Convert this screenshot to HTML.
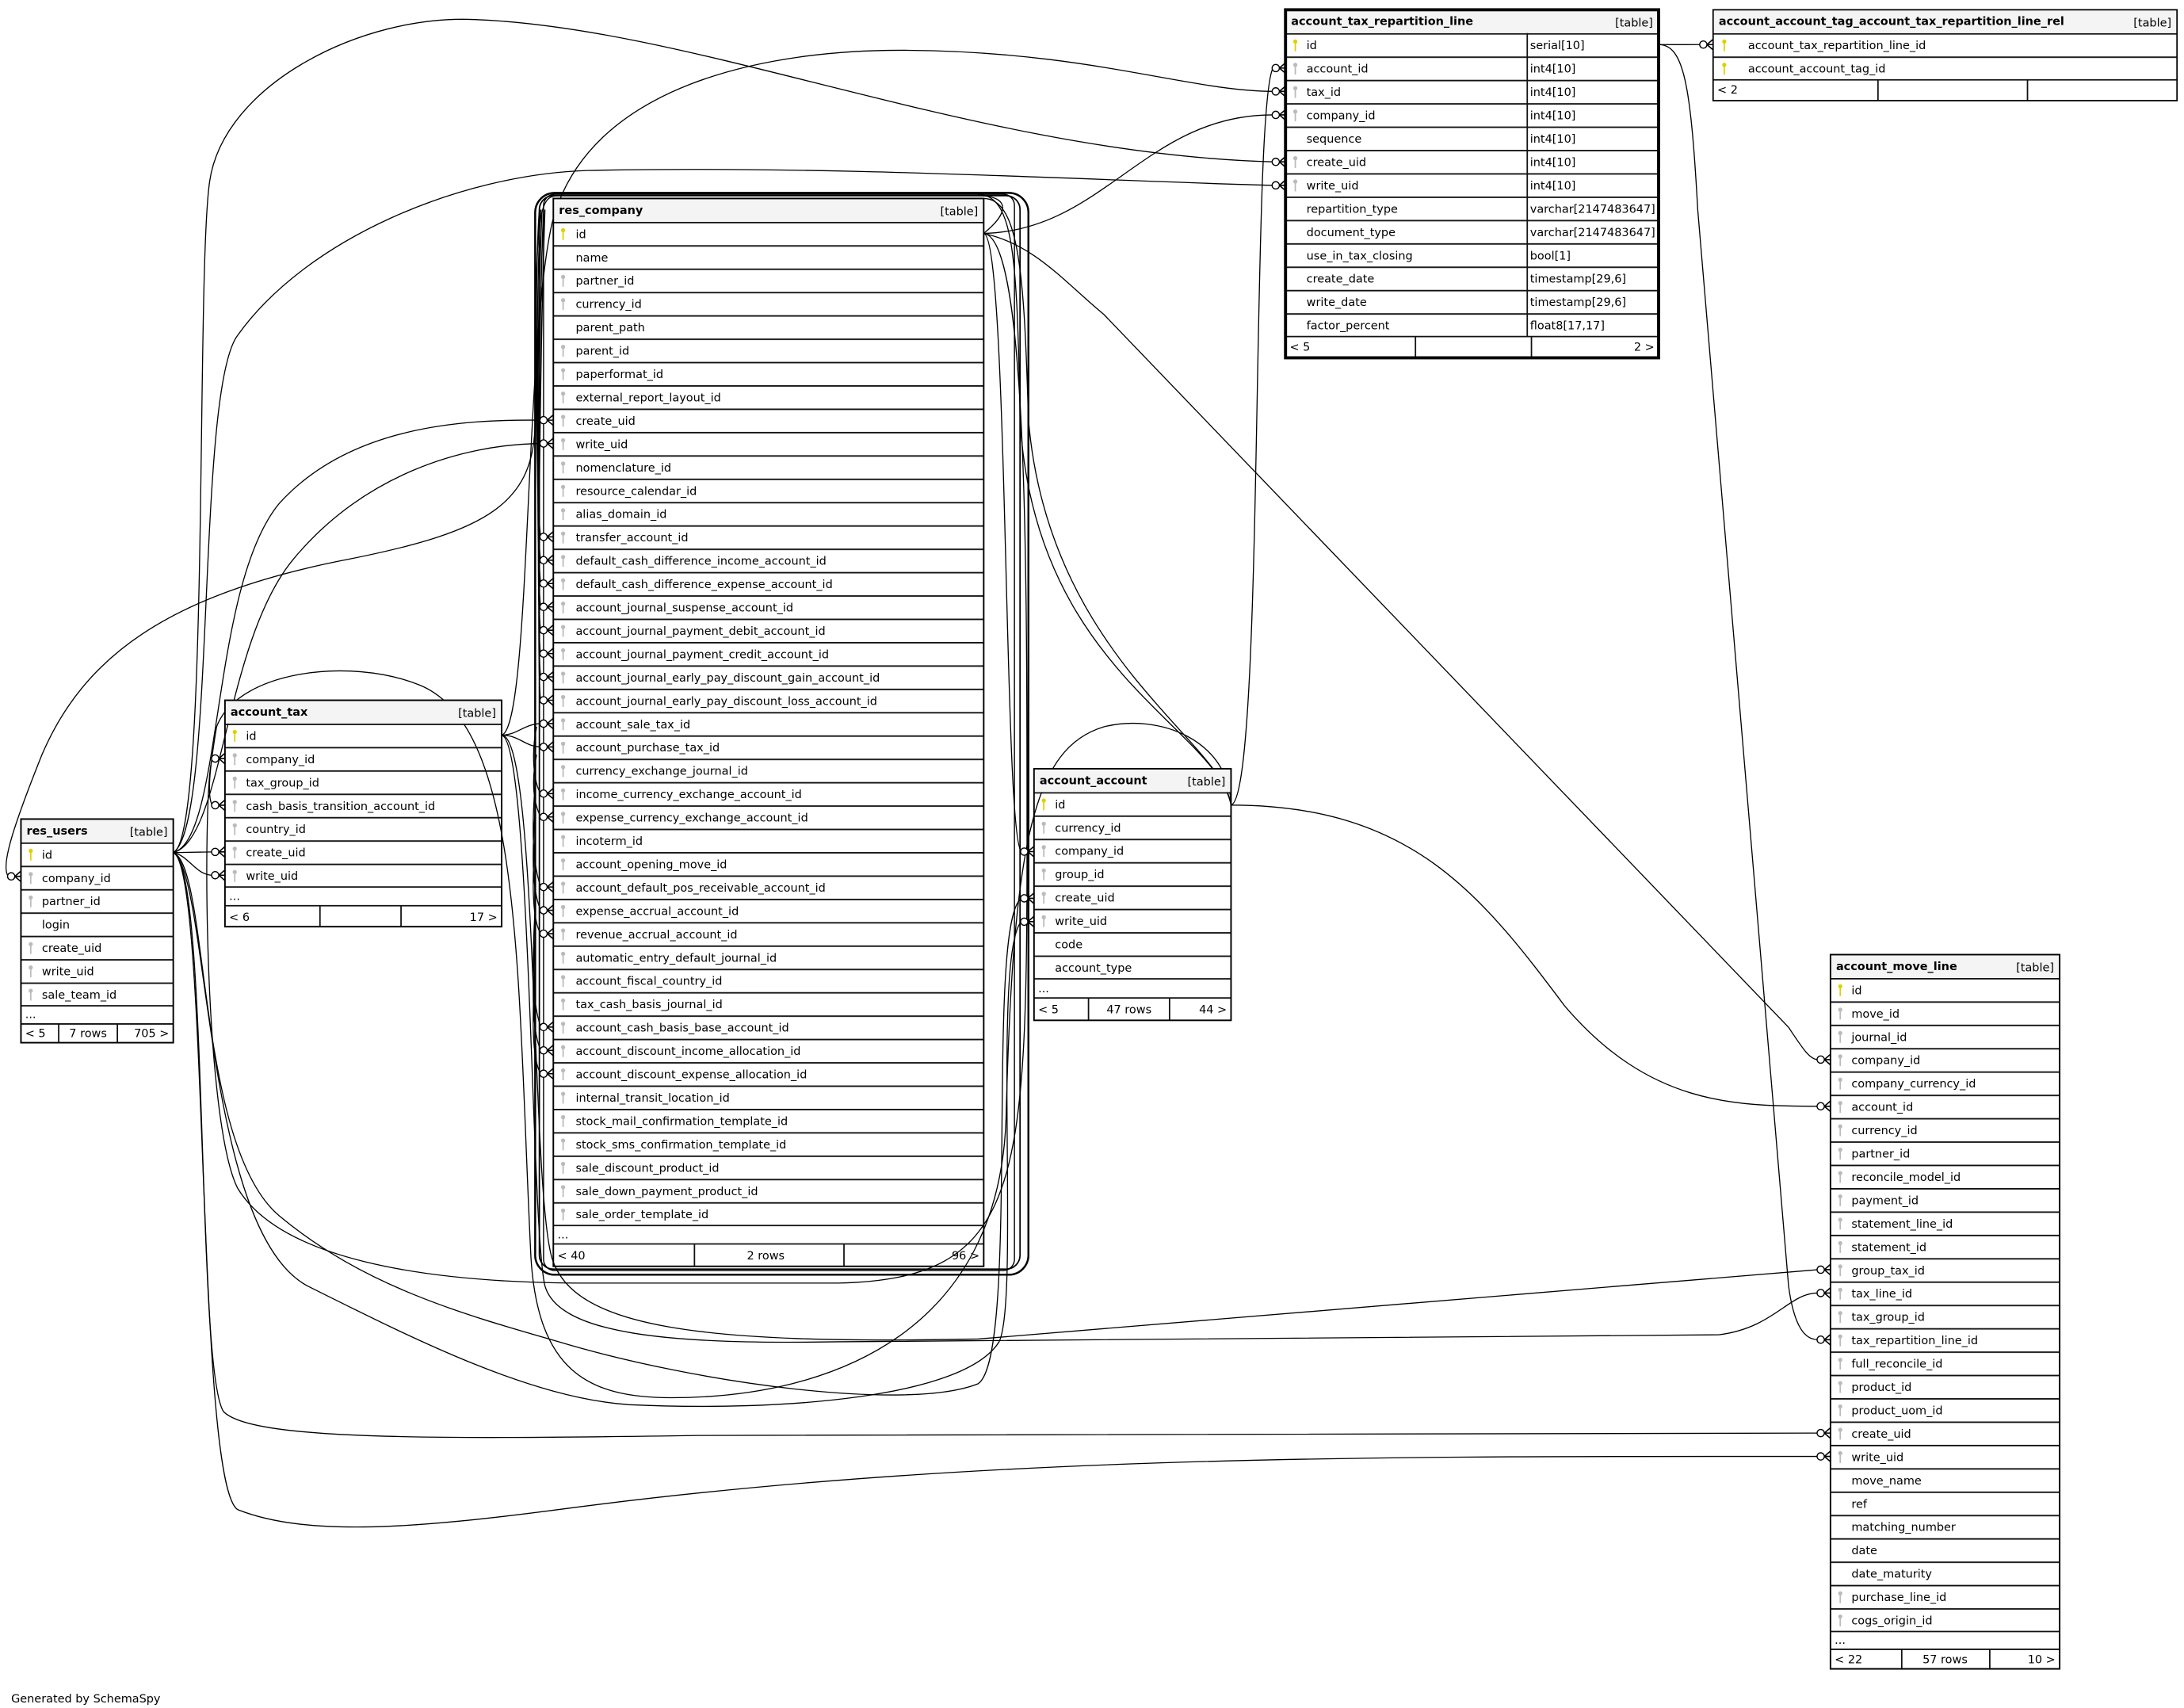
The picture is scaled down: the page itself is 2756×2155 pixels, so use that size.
<!DOCTYPE html>
<html><head><meta charset="utf-8"><style>
html,body{margin:0;padding:0;background:#fff;}
svg{display:block;}
text{font-family:"DejaVu Sans","Liberation Sans",sans-serif;font-size:8.2px;fill:#000;}
.h{font-weight:bold;}
.e{fill:none;stroke:#000;stroke-width:0.75;}
.tb{fill:#fff;stroke:#000;stroke-width:1;}
</style></head><body>
<svg width="2756" height="2155" viewBox="0 0 1563 1222" preserveAspectRatio="none" xmlns="http://www.w3.org/2000/svg">
<defs>
<pattern id="rows" width="2000" height="16.7" patternUnits="userSpaceOnUse"><path d="M0 0.5H2000" stroke="#111" stroke-width="1.1"/></pattern>
<g id="kp"><circle cx="2" cy="2" r="1.5" fill="#e0d000"/><rect x="1.5" y="2.5" width="1" height="6.5" fill="#e0d000"/></g>
<g id="kf"><circle cx="2" cy="2" r="1.5" fill="#bbb"/><rect x="1.5" y="2.5" width="1" height="6.5" fill="#bbb"/></g>
<g id="cf"><circle cx="-7" cy="0" r="2.6" fill="#fff" stroke="#000" stroke-width="0.8"/><path d="M-4.4 0L0 -3.8M-4.4 0L0 0M-4.4 0L0 3.8" stroke="#000" stroke-width="0.9" fill="none"/></g>
</defs>
<rect width="1563" height="1222" fill="#fff"/>

<!-- loops around res_company -->
<rect x="383" y="138" width="353" height="774" rx="14" fill="none" stroke="#000" stroke-width="1.4"/>
<rect x="386" y="140" width="344" height="768" rx="10" fill="none" stroke="#000" stroke-width="1"/>
<rect x="389" y="139" width="337" height="770" rx="8" fill="none" stroke="#000" stroke-width="0.8"/>

<!-- edges -->
<g class="e">
<path d="M124,610 C150,600 140,200 150,130 C160,60 260,10 340,14 C500,20 700,110 911,115.8"/>
<path d="M124,610 C155,590 140,280 170,240 C220,170 330,125 420,122 C600,118 800,130 911,132.6"/>
<path d="M704,167 C790,165 820,82 911,82.2"/>
<path d="M881,576 C905,570 895,80 911,48.7"/>
<path d="M359,526 C380,520 375,250 395,160 C420,60 550,35 650,36 C780,37 850,65 911,65.4"/>
<path d="M1187,31.9 C1200,32 1205,31.9 1217,31.9"/>
<path d="M1187,31.9 C1205,32 1210,60 1215,150 L1280,920 C1284,950 1292,958.5 1301,958.5"/>
<path d="M704,167 C740,175 760,200 790,225 L1280,735 C1290,750 1295,758 1301,758.1"/>
<path d="M881,576 C1010,576 1060,640 1120,720 C1180,790 1240,791.5 1301,791.5"/>
<path d="M359,526 C385,526 380,850 395,900 C410,950 500,962 700,958 L1301,908.4"/>
<path d="M359,526 C380,530 380,880 390,920 C400,955 480,962 600,960 L1230,955 C1270,950 1280,925 1301,925.1"/>
<path d="M124,610 C150,620 140,980 160,1010 C180,1030 300,1030 500,1027 L1301,1025.3"/>
<path d="M124,610 C150,620 140,1060 170,1080 C220,1100 300,1093 400,1080 C700,1040 1000,1042 1301,1042"/>
<path d="M124,610 L152,609.5"/>
<path d="M124,610 C135,612 140,626 152,626.2"/>
<path d="M704,167 C725,150 720,140 700,140 L400,140 C385,140 383,150 383,300 C383,360 350,380 250,400 C120,425 60,470 30,540 C10,590 0,620 6,627"/>
<path d="M124,610 C160,600 150,420 200,360 C250,305 330,300 387,300.6"/>
<path d="M124,610 C160,600 160,460 210,400 C260,340 330,318 387,317.3"/>
<path d="M359,526 C370,526 375,518 387,517.7"/>
<path d="M359,526 C372,526 375,534 387,534.4"/>
<path d="M704,167 C722,170 718,600 731,609.3"/>
<path d="M124,610 C150,620 140,820 200,870 C260,920 330,940 400,960 C500,990 650,1010 700,990 C730,970 705,660 731,642.7"/>
<path d="M124,610 C150,625 145,880 220,920 C300,960 380,1000 450,1005 C560,1010 690,1000 715,960 C730,930 710,680 731,659.4"/>
<path d="M704,167 C735,170 735,400 735,600 C735,850 730,915 600,918 L420,918 C300,918 200,900 170,850 C145,800 145,560 152,542.7"/>
<path d="M881,576 C880,530 830,510 790,520 C740,535 725,600 720,800 C715,950 600,1000 480,1000 C420,1000 385,980 380,900 C370,700 375,520 300,490 C250,470 170,480 155,520 C150,550 148,570 152,576.1"/>
<path d="M881,576 C870,520 740,480 730,300 C728,180 725,140 700,139"/>
<path d="M881,576 C875,530 750,470 736,300 C733,200 730,142 704,142"/>
<path d="M386,150 C382,200 384,370 387,384.1M387,150 C383,210 384,390 387,400.8M388,150 C384,220 384,400 387,417.5M388,150 C384,230 384,420 387,434.2M389,150 C385,240 384,440 387,450.9M389,150 C385,250 384,460 387,467.6M390,150 C386,260 384,470 387,484.3M390,150 C386,270 384,490 387,501"/>
<path d="M384,520 C380,540 382,560 387,567.8M384,540 C380,560 382,575 387,584.5M383,560 C380,600 382,620 387,634.6M383,580 C380,620 382,640 387,651.3M383,600 C380,640 382,660 387,668M383,650 C380,700 382,720 387,734.8M383,670 C380,720 382,740 387,751.5M383,690 C380,740 382,760 387,768.2"/>
</g>
<!-- crow's feet -->
<use href="#cf" x="920" y="48.7"/><use href="#cf" x="920" y="65.4"/><use href="#cf" x="920" y="82.2"/><use href="#cf" x="920" y="115.8"/><use href="#cf" x="920" y="132.6"/>
<use href="#cf" x="1226" y="31.9"/>
<use href="#cf" x="1310" y="758.1"/><use href="#cf" x="1310" y="791.5"/><use href="#cf" x="1310" y="908.4"/><use href="#cf" x="1310" y="925.1"/><use href="#cf" x="1310" y="958.5"/><use href="#cf" x="1310" y="1025.3"/><use href="#cf" x="1310" y="1042"/>
<use href="#cf" x="396" y="300.6"/><use href="#cf" x="396" y="317.3"/><use href="#cf" x="396" y="384.1"/><use href="#cf" x="396" y="400.8"/><use href="#cf" x="396" y="417.5"/><use href="#cf" x="396" y="434.2"/><use href="#cf" x="396" y="450.9"/><use href="#cf" x="396" y="467.6"/><use href="#cf" x="396" y="484.3"/><use href="#cf" x="396" y="501"/><use href="#cf" x="396" y="517.7"/><use href="#cf" x="396" y="534.4"/><use href="#cf" x="396" y="567.8"/><use href="#cf" x="396" y="584.5"/><use href="#cf" x="396" y="634.6"/><use href="#cf" x="396" y="651.3"/><use href="#cf" x="396" y="668"/><use href="#cf" x="396" y="734.8"/><use href="#cf" x="396" y="751.5"/><use href="#cf" x="396" y="768.2"/>
<use href="#cf" x="161" y="542.7"/><use href="#cf" x="161" y="576.1"/><use href="#cf" x="161" y="609.5"/><use href="#cf" x="161" y="626.2"/>
<use href="#cf" x="15" y="627"/>
<use href="#cf" x="740" y="609.3"/><use href="#cf" x="740" y="642.7"/><use href="#cf" x="740" y="659.4"/>

<!-- account_tax_repartition_line -->
<g transform="translate(920,7)">
<rect x="0" y="0" width="267" height="16.7" fill="#f4f4f4"/>
<rect x="0" y="16.7" width="267" height="217.1" fill="url(#rows)"/>
<path d="M0 233.8H267M173 16.7V233.8M93 233.8V249M176 233.8V249" stroke="#111" stroke-width="1"/>
<rect x="0" y="0" width="267" height="249" fill="none" stroke="#000" stroke-width="2.2"/>
<text x="4" y="11" class="h">account_tax_repartition_line</text><text x="263" y="12" text-anchor="end">[table]</text>
<use href="#kp" x="5" y="20.7"/><use href="#kf" x="5" y="37.4"/><use href="#kf" x="5" y="54.1"/><use href="#kf" x="5" y="70.8"/><use href="#kf" x="5" y="104.2"/><use href="#kf" x="5" y="120.9"/>
<text x="15" y="28.3">id</text><text x="175" y="28.3">serial[10]</text>
<text x="15" y="45">account_id</text><text x="175" y="45">int4[10]</text>
<text x="15" y="61.7">tax_id</text><text x="175" y="61.7">int4[10]</text>
<text x="15" y="78.4">company_id</text><text x="175" y="78.4">int4[10]</text>
<text x="15" y="95.1">sequence</text><text x="175" y="95.1">int4[10]</text>
<text x="15" y="111.8">create_uid</text><text x="175" y="111.8">int4[10]</text>
<text x="15" y="128.5">write_uid</text><text x="175" y="128.5">int4[10]</text>
<text x="15" y="145.2">repartition_type</text><text x="175" y="145.2">varchar[2147483647]</text>
<text x="15" y="161.9">document_type</text><text x="175" y="161.9">varchar[2147483647]</text>
<text x="15" y="178.6">use_in_tax_closing</text><text x="175" y="178.6">bool[1]</text>
<text x="15" y="195.3">create_date</text><text x="175" y="195.3">timestamp[29,6]</text>
<text x="15" y="212">write_date</text><text x="175" y="212">timestamp[29,6]</text>
<text x="15" y="228.7">factor_percent</text><text x="175" y="228.7">float8[17,17]</text>
<text x="3" y="244">&lt; 5</text><text x="264" y="244" text-anchor="end">2 &gt;</text>
</g>

<!-- rel -->
<g transform="translate(1226,7)">
<rect x="0" y="0" width="332" height="16.7" fill="#f4f4f4"/>
<rect x="0" y="16.7" width="332" height="33.4" fill="url(#rows)"/>
<path d="M0 50.1H332M118 50.1V65M225 50.1V65" stroke="#111" stroke-width="1"/>
<rect x="0" y="0" width="332" height="65" fill="none" stroke="#000" stroke-width="1"/>
<text x="4" y="11" class="h">account_account_tag_account_tax_repartition_line_rel</text><text x="328" y="12" text-anchor="end">[table]</text>
<use href="#kp" x="6" y="20.7"/><use href="#kp" x="6" y="37.4"/>
<text x="25" y="28.3">account_tax_repartition_line_id</text>
<text x="25" y="45">account_account_tag_id</text>
<text x="3" y="60">&lt; 2</text>
</g>

<!-- res_company -->
<g transform="translate(396,142)">
<rect x="0" y="0" width="308" height="16.7" fill="#f4f4f4"/>
<rect x="0" y="16.7" width="308" height="718.1" fill="url(#rows)"/>
<path d="M0 734.8H308M0 748H308M101 748V764M208 748V764" stroke="#111" stroke-width="1"/>
<rect x="0" y="0" width="308" height="764" fill="none" stroke="#000" stroke-width="1.1"/>
<text x="4" y="11" class="h">res_company</text><text x="304" y="12" text-anchor="end">[table]</text>
<use href="#kp" x="5" y="20.7"/><use href="#kf" x="5" y="54.1"/><use href="#kf" x="5" y="70.8"/>
<use href="#kf" x="5" y="104.2"/><use href="#kf" x="5" y="120.9"/><use href="#kf" x="5" y="137.6"/><use href="#kf" x="5" y="154.3"/><use href="#kf" x="5" y="171"/><use href="#kf" x="5" y="187.7"/><use href="#kf" x="5" y="204.4"/><use href="#kf" x="5" y="221.1"/><use href="#kf" x="5" y="237.8"/><use href="#kf" x="5" y="254.5"/><use href="#kf" x="5" y="271.2"/><use href="#kf" x="5" y="287.9"/><use href="#kf" x="5" y="304.6"/><use href="#kf" x="5" y="321.3"/><use href="#kf" x="5" y="338"/><use href="#kf" x="5" y="354.7"/><use href="#kf" x="5" y="371.4"/><use href="#kf" x="5" y="388.1"/><use href="#kf" x="5" y="404.8"/><use href="#kf" x="5" y="421.5"/><use href="#kf" x="5" y="438.2"/><use href="#kf" x="5" y="454.9"/><use href="#kf" x="5" y="471.6"/><use href="#kf" x="5" y="488.3"/><use href="#kf" x="5" y="505"/><use href="#kf" x="5" y="521.7"/><use href="#kf" x="5" y="538.4"/><use href="#kf" x="5" y="555.1"/><use href="#kf" x="5" y="571.8"/><use href="#kf" x="5" y="588.5"/><use href="#kf" x="5" y="605.2"/><use href="#kf" x="5" y="621.9"/><use href="#kf" x="5" y="638.6"/><use href="#kf" x="5" y="655.3"/><use href="#kf" x="5" y="672"/><use href="#kf" x="5" y="688.7"/><use href="#kf" x="5" y="705.4"/><use href="#kf" x="5" y="722.1"/>
<text x="16" y="28.3">id</text>
<text x="16" y="45">name</text>
<text x="16" y="61.7">partner_id</text>
<text x="16" y="78.4">currency_id</text>
<text x="16" y="95.1">parent_path</text>
<text x="16" y="111.8">parent_id</text>
<text x="16" y="128.5">paperformat_id</text>
<text x="16" y="145.2">external_report_layout_id</text>
<text x="16" y="161.9">create_uid</text>
<text x="16" y="178.6">write_uid</text>
<text x="16" y="195.3">nomenclature_id</text>
<text x="16" y="212">resource_calendar_id</text>
<text x="16" y="228.7">alias_domain_id</text>
<text x="16" y="245.4">transfer_account_id</text>
<text x="16" y="262.1">default_cash_difference_income_account_id</text>
<text x="16" y="278.8">default_cash_difference_expense_account_id</text>
<text x="16" y="295.5">account_journal_suspense_account_id</text>
<text x="16" y="312.2">account_journal_payment_debit_account_id</text>
<text x="16" y="328.9">account_journal_payment_credit_account_id</text>
<text x="16" y="345.6">account_journal_early_pay_discount_gain_account_id</text>
<text x="16" y="362.3">account_journal_early_pay_discount_loss_account_id</text>
<text x="16" y="379">account_sale_tax_id</text>
<text x="16" y="395.7">account_purchase_tax_id</text>
<text x="16" y="412.4">currency_exchange_journal_id</text>
<text x="16" y="429.1">income_currency_exchange_account_id</text>
<text x="16" y="445.8">expense_currency_exchange_account_id</text>
<text x="16" y="462.5">incoterm_id</text>
<text x="16" y="479.2">account_opening_move_id</text>
<text x="16" y="495.9">account_default_pos_receivable_account_id</text>
<text x="16" y="512.6">expense_accrual_account_id</text>
<text x="16" y="529.3">revenue_accrual_account_id</text>
<text x="16" y="546">automatic_entry_default_journal_id</text>
<text x="16" y="562.7">account_fiscal_country_id</text>
<text x="16" y="579.4">tax_cash_basis_journal_id</text>
<text x="16" y="596.1">account_cash_basis_base_account_id</text>
<text x="16" y="612.8">account_discount_income_allocation_id</text>
<text x="16" y="629.5">account_discount_expense_allocation_id</text>
<text x="16" y="646.2">internal_transit_location_id</text>
<text x="16" y="662.9">stock_mail_confirmation_template_id</text>
<text x="16" y="679.6">stock_sms_confirmation_template_id</text>
<text x="16" y="696.3">sale_discount_product_id</text>
<text x="16" y="713">sale_down_payment_product_id</text>
<text x="16" y="729.7">sale_order_template_id</text>
<text x="3" y="744">...</text>
<text x="3" y="759">&lt; 40</text><text x="152" y="759" text-anchor="middle">2 rows</text><text x="305" y="759" text-anchor="end">96 &gt;</text>
</g>

<!-- account_tax -->
<g transform="translate(161,501)">
<rect x="0" y="0" width="198" height="16.7" fill="#f4f4f4"/>
<rect x="0" y="16.7" width="198" height="116.9" fill="url(#rows)"/>
<path d="M0 133.6H198M0 147H198M68 147V162M126 147V162" stroke="#111" stroke-width="1"/>
<rect x="0" y="0" width="198" height="162" fill="none" stroke="#000" stroke-width="1.1"/>
<text x="4" y="11" class="h">account_tax</text><text x="194" y="12" text-anchor="end">[table]</text>
<use href="#kp" x="5" y="20.7"/><use href="#kf" x="5" y="37.4"/><use href="#kf" x="5" y="54.1"/><use href="#kf" x="5" y="70.8"/><use href="#kf" x="5" y="87.5"/><use href="#kf" x="5" y="104.2"/><use href="#kf" x="5" y="120.9"/>
<text x="15" y="28.3">id</text>
<text x="15" y="45">company_id</text>
<text x="15" y="61.7">tax_group_id</text>
<text x="15" y="78.4">cash_basis_transition_account_id</text>
<text x="15" y="95.1">country_id</text>
<text x="15" y="111.8">create_uid</text>
<text x="15" y="128.5">write_uid</text>
<text x="3" y="143">...</text>
<text x="3" y="158">&lt; 6</text><text x="195" y="158" text-anchor="end">17 &gt;</text>
</g>

<!-- res_users -->
<g transform="translate(15,586)">
<rect x="0" y="0" width="109" height="16.7" fill="#f4f4f4"/>
<rect x="0" y="16.7" width="109" height="116.9" fill="url(#rows)"/>
<path d="M0 133.6H109M0 146.6H109M27 146.6V160M69 146.6V160" stroke="#111" stroke-width="1"/>
<rect x="0" y="0" width="109" height="160" fill="none" stroke="#000" stroke-width="1.1"/>
<text x="4" y="11" class="h">res_users</text><text x="105" y="12" text-anchor="end">[table]</text>
<use href="#kp" x="5" y="20.7"/><use href="#kf" x="5" y="37.4"/><use href="#kf" x="5" y="54.1"/><use href="#kf" x="5" y="87.5"/><use href="#kf" x="5" y="104.2"/><use href="#kf" x="5" y="120.9"/>
<text x="15" y="28.3">id</text>
<text x="15" y="45">company_id</text>
<text x="15" y="61.7">partner_id</text>
<text x="15" y="78.4">login</text>
<text x="15" y="95.1">create_uid</text>
<text x="15" y="111.8">write_uid</text>
<text x="15" y="128.5">sale_team_id</text>
<text x="3" y="142.5">...</text>
<text x="3" y="156">&lt; 5</text><text x="48" y="156" text-anchor="middle">7 rows</text><text x="106" y="156" text-anchor="end">705 &gt;</text>
</g>

<!-- account_account -->
<g transform="translate(740,550)">
<rect x="0" y="0" width="141" height="16.7" fill="#f4f4f4"/>
<rect x="0" y="16.7" width="141" height="133.6" fill="url(#rows)"/>
<path d="M0 150.3H141M0 164H141M39 164V180M97 164V180" stroke="#111" stroke-width="1"/>
<rect x="0" y="0" width="141" height="180" fill="none" stroke="#000" stroke-width="1.1"/>
<text x="4" y="11" class="h">account_account</text><text x="137" y="12" text-anchor="end">[table]</text>
<use href="#kp" x="5" y="20.7"/><use href="#kf" x="5" y="37.4"/><use href="#kf" x="5" y="54.1"/><use href="#kf" x="5" y="70.8"/><use href="#kf" x="5" y="87.5"/><use href="#kf" x="5" y="104.2"/>
<text x="15" y="28.3">id</text>
<text x="15" y="45">currency_id</text>
<text x="15" y="61.7">company_id</text>
<text x="15" y="78.4">group_id</text>
<text x="15" y="95.1">create_uid</text>
<text x="15" y="111.8">write_uid</text>
<text x="15" y="128.5">code</text>
<text x="15" y="145.2">account_type</text>
<text x="3" y="160">...</text>
<text x="3" y="175">&lt; 5</text><text x="68" y="175" text-anchor="middle">47 rows</text><text x="138" y="175" text-anchor="end">44 &gt;</text>
</g>

<!-- account_move_line -->
<g transform="translate(1310,683)">
<rect x="0" y="0" width="164" height="16.7" fill="#f4f4f4"/>
<rect x="0" y="16.7" width="164" height="467.6" fill="url(#rows)"/>
<path d="M0 484.3H164M0 497H164M51 497V511M114 497V511" stroke="#111" stroke-width="1"/>
<rect x="0" y="0" width="164" height="511" fill="none" stroke="#000" stroke-width="1.1"/>
<text x="4" y="11" class="h">account_move_line</text><text x="160" y="12" text-anchor="end">[table]</text>
<use href="#kp" x="5" y="20.7"/><use href="#kf" x="5" y="37.4"/><use href="#kf" x="5" y="54.1"/><use href="#kf" x="5" y="70.8"/><use href="#kf" x="5" y="87.5"/><use href="#kf" x="5" y="104.2"/><use href="#kf" x="5" y="120.9"/><use href="#kf" x="5" y="137.6"/><use href="#kf" x="5" y="154.3"/><use href="#kf" x="5" y="171"/><use href="#kf" x="5" y="187.7"/><use href="#kf" x="5" y="204.4"/><use href="#kf" x="5" y="221.1"/><use href="#kf" x="5" y="237.8"/><use href="#kf" x="5" y="254.5"/><use href="#kf" x="5" y="271.2"/><use href="#kf" x="5" y="287.9"/><use href="#kf" x="5" y="304.6"/><use href="#kf" x="5" y="321.3"/><use href="#kf" x="5" y="338"/><use href="#kf" x="5" y="354.7"/><use href="#kf" x="5" y="455"/><use href="#kf" x="5" y="471.6"/>
<text x="15" y="28.3">id</text>
<text x="15" y="45">move_id</text>
<text x="15" y="61.7">journal_id</text>
<text x="15" y="78.4">company_id</text>
<text x="15" y="95.1">company_currency_id</text>
<text x="15" y="111.8">account_id</text>
<text x="15" y="128.5">currency_id</text>
<text x="15" y="145.2">partner_id</text>
<text x="15" y="161.9">reconcile_model_id</text>
<text x="15" y="178.6">payment_id</text>
<text x="15" y="195.3">statement_line_id</text>
<text x="15" y="212">statement_id</text>
<text x="15" y="228.7">group_tax_id</text>
<text x="15" y="245.4">tax_line_id</text>
<text x="15" y="262.1">tax_group_id</text>
<text x="15" y="278.8">tax_repartition_line_id</text>
<text x="15" y="295.5">full_reconcile_id</text>
<text x="15" y="312.2">product_id</text>
<text x="15" y="328.9">product_uom_id</text>
<text x="15" y="345.6">create_uid</text>
<text x="15" y="362.3">write_uid</text>
<text x="15" y="379">move_name</text>
<text x="15" y="395.7">ref</text>
<text x="15" y="412.4">matching_number</text>
<text x="15" y="429.1">date</text>
<text x="15" y="445.8">date_maturity</text>
<text x="15" y="462.5">purchase_line_id</text>
<text x="15" y="479.2">cogs_origin_id</text>
<text x="3" y="493">...</text>
<text x="3" y="507">&lt; 22</text><text x="82" y="507" text-anchor="middle">57 rows</text><text x="161" y="507" text-anchor="end">10 &gt;</text>
</g>

<text x="8" y="1218">Generated by SchemaSpy</text>
</svg>
</body></html>
